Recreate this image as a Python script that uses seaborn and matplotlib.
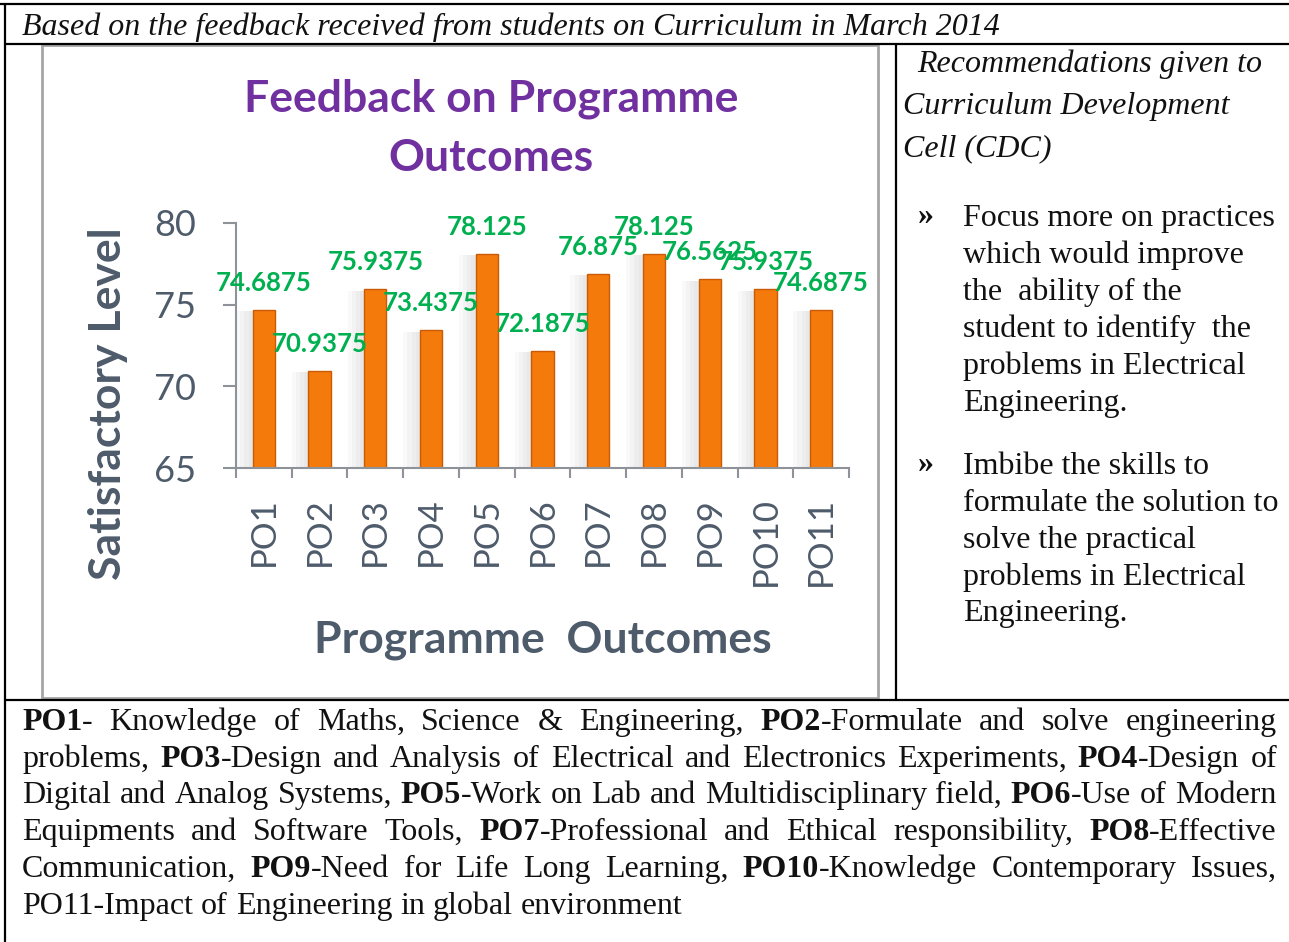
import numpy as np
import pandas as pd
import matplotlib
matplotlib.use("Agg")
import matplotlib.pyplot as plt
import matplotlib.patheffects as pe
from matplotlib.lines import Line2D
from matplotlib.patches import Rectangle
import seaborn as sns

# ---------------- data ----------------
categories = ["PO1", "PO2", "PO3", "PO4", "PO5", "PO6", "PO7", "PO8", "PO9", "PO10", "PO11"]
values = [74.6875, 70.9375, 75.9375, 73.4375, 78.125, 72.1875, 76.875, 78.125, 76.5625, 75.9375, 74.6875]
y_ticks = [65, 70, 75, 80]

chart_title = ["Feedback on Programme", "Outcomes"]
x_label = "Programme  Outcomes"
y_label = "Satisfactory Level"

header_text = "Based on the feedback received from students on Curriculum in March 2014"
rec_heading = ["Recommendations given to", "Curriculum Development", "Cell (CDC)"]
bullet1 = ["Focus more on practices", "which would improve", "the  ability of the",
           "student to identify  the", "problems in Electrical", "Engineering."]
bullet2 = ["Imbibe the skills to", "formulate the solution to", "solve the practical",
           "problems in Electrical", "Engineering."]
para_lines = [
    "**PO1**- Knowledge of Maths, Science & Engineering, **PO2**-Formulate and solve engineering",
    "problems, **PO3**-Design and Analysis of Electrical and Electronics Experiments, **PO4**-Design of",
    "Digital and Analog Systems, **PO5**-Work on Lab and Multidisciplinary field, **PO6**-Use of Modern",
    "Equipments and Software Tools, **PO7**-Professional and Ethical responsibility, **PO8**-Effective",
    "Communication, **PO9**-Need for Life Long Learning, **PO10**-Knowledge Contemporary Issues,",
    "PO11-Impact of Engineering in global environment",
]

# ---------------- setup ----------------
sns.set_style("white")
plt.rcParams["font.family"] = ["Lato", "DejaVu Sans"]

W, H = 1289, 942
fig = plt.figure(figsize=(W / 100, H / 100), dpi=100)
fig.patch.set_facecolor("white")

def fx(x):
    return x / W

def fy(y):
    return 1 - y / H

def hline(y, x0, x1, color="black", lw=1.6):
    fig.add_artist(Line2D([fx(x0), fx(x1)], [fy(y), fy(y)], color=color, lw=lw,
                          transform=fig.transFigure))

def vline(x, y0, y1, color="black", lw=1.6):
    fig.add_artist(Line2D([fx(x), fx(x)], [fy(y0), fy(y1)], color=color, lw=lw,
                          transform=fig.transFigure))

# table borders
hline(4, 0, W)
hline(44, 5, W)
hline(700, 5, W)
vline(5, 4, H)
vline(896, 44, 700)

# chart frame (light gray)
fig.add_artist(Rectangle((fx(42), fy(698)), fx(878) - fx(42), fy(45) - fy(698),
                         transform=fig.transFigure, fill=False, edgecolor="#a6a6a6", lw=2))

# ---------------- chart ----------------
SLATE = "#4e5b6b"
AXGRAY = "#8e9299"
ax = fig.add_axes([fx(236), fy(468), fx(849) - fx(236), fy(223) - fy(468)])
df = pd.DataFrame({"cat": categories, "val": values})
sns.barplot(data=df, x="cat", y="val", color="#f47a0c", saturation=1, width=0.4,
            errorbar=None, edgecolor="#c95a06", linewidth=1, ax=ax)
shadow = [pe.SimplePatchShadow(offset=(-o, -1), shadow_rgbFace="0.55", alpha=0.05)
          for o in (12, 9, 6, 3)]
for p in ax.patches:
    p.set_path_effects(shadow + [pe.Normal()])

ax.set_ylim(y_ticks[0], y_ticks[-1])
ax.set_xlim(-0.5, len(categories) - 0.5)
ax.set_yticks(y_ticks)
ax.set_xticks(range(len(categories)))
ax.set_xticklabels(categories, rotation=90)
ax.set_xticks(np.arange(-0.5, len(categories), 1), minor=True)

sns.despine(ax=ax)
for s in ["left", "bottom"]:
    ax.spines[s].set_color(AXGRAY)
    ax.spines[s].set_linewidth(1.5)
ax.tick_params(axis="y", length=9.5, width=1.5, color=AXGRAY, labelsize=26,
               labelcolor=SLATE, pad=19, direction="out", left=True)
ax.tick_params(axis="x", which="major", length=0, labelsize=25, labelcolor=SLATE, pad=21)
ax.tick_params(axis="x", which="minor", length=7.5, width=1.5, color=AXGRAY,
               direction="out", bottom=True)

for p, v in zip(ax.patches, values):
    ax.annotate(f"{v}", xy=(p.get_x() + p.get_width() / 2, v), xytext=(0, 27),
                textcoords="offset pixels", ha="center", va="center",
                color="#00b050", fontweight="bold", fontsize=18.5)

ax.set_xlabel(x_label, fontsize=32, fontweight="bold", color=SLATE, va="center")
ax.xaxis.set_label_coords((543 - 236) / 613, (468 - 640) / 245)
ax.set_ylabel(y_label, fontsize=32, fontweight="bold", color=SLATE, va="center")
ax.yaxis.set_label_coords((108 - 236) / 613, (468 - 404) / 245)

fig.text(fx(491), fy(99), chart_title[0], ha="center", va="center", fontsize=32,
         fontweight="bold", color="#7030a0")
fig.text(fx(491), fy(158), chart_title[1], ha="center", va="center", fontsize=32,
         fontweight="bold", color="#7030a0")

# ---------------- document text ----------------
SERIF = ["Liberation Serif", "DejaVu Serif"]
FS = 23
DY = 2.5

fig.text(fx(22), fy(25 + DY), header_text, ha="left", va="center", fontsize=FS,
         family=SERIF, style="italic", color="#111111")

rec_pos = [(917, 62), (903, 104), (903, 146)]
for (x, y), line in zip(rec_pos, rec_heading):
    fig.text(fx(x), fy(y + DY), line, ha="left", va="center", fontsize=FS, family=SERIF,
             style="italic", color="#111111")

def bullet_block(lines, y0, step):
    fig.text(fx(918), fy(y0 - 2 + DY), "\u00bb", ha="left", va="center", fontsize=FS,
             family=SERIF, color="#111111", fontweight="bold")
    for i, line in enumerate(lines):
        fig.text(fx(963), fy(y0 + i * step + DY), line, ha="left", va="center", fontsize=FS,
                 family=SERIF, color="#111111")

bullet_block(bullet1, 216, 36.9)
bullet_block(bullet2, 464, 36.8)

fig.canvas.draw()
renderer = fig.canvas.get_renderer()

def parse_word(word):
    parts = word.split("**")
    segs = []
    for i, p in enumerate(parts):
        if p:
            segs.append((p, i % 2 == 1))
    return segs

def draw_line(line, y, x0, x1, justify):
    words = [parse_word(w) for w in line.split(" ") if w]
    items = []
    widths = []
    for segs in words:
        objs = []
        tot = 0
        for s, b in segs:
            t = fig.text(0, fy(y), s, ha="left", va="center", fontsize=FS, family=SERIF,
                         fontweight="bold" if b else "normal", color="#111111")
            w = t.get_window_extent(renderer).width
            objs.append((t, w))
            tot += w
        items.append(objs)
        widths.append(tot)
    sp = fig.text(0, 0, "a a", fontsize=FS, family=SERIF)
    sa = fig.text(0, 0, "aa", fontsize=FS, family=SERIF)
    space = sp.get_window_extent(renderer).width - sa.get_window_extent(renderer).width
    sp.remove(); sa.remove()
    if justify and len(items) > 1:
        gap = (x1 - x0 - sum(widths)) / (len(items) - 1)
    else:
        gap = space
    x = x0
    for objs in items:
        for t, w in objs:
            t.set_x(fx(x))
            x += w
        x += gap

para_y = [720, 757, 793, 830, 867, 904]
for i, (line, y) in enumerate(zip(para_lines, para_y)):
    draw_line(line, y + DY, 22, 1277, justify=(i < len(para_lines) - 1))

fig.savefig("out.png", dpi=100)
